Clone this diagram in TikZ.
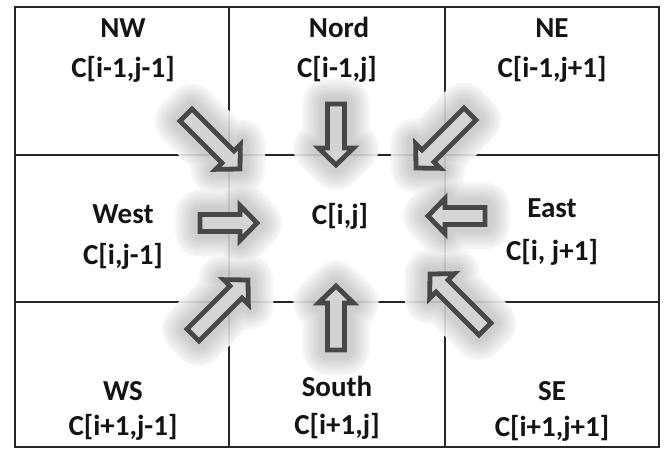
\documentclass[tikz,border=0pt]{standalone}
\usepackage{fontspec}
\setmainfont{Carlito}
\usetikzlibrary{calc}
\tikzset{
  lbl/.style={font=\fontsize{29}{32}\selectfont\bfseries, anchor=base, inner sep=0pt, text=black!92},
  gridline/.style={line width=2.4pt, black!85},
  blockarr/.style={draw=black!72, fill=black!17, line width=4.8pt, line join=miter, miter limit=10},
}
\newcommand{\arrSW}{8.5pt}
\newcommand{\arrHW}{17.5pt}
\newcommand{\arrHL}{17pt}
\newcommand{\defarrow}[3]{%
  \coordinate (#1-t) at #2;
  \coordinate (#1-p) at #3;
  \coordinate (#1-b) at ($(#1-p)!\arrHL!(#1-t)$);}
\newcommand{\arrpath}[1]{($(#1-t)!\arrSW!90:(#1-p)$) -- ($(#1-b)!\arrSW!90:(#1-p)$) -- ($(#1-b)!\arrHW!90:(#1-p)$) -- (#1-p) -- ($(#1-b)!\arrHW!-90:(#1-p)$) -- ($(#1-b)!\arrSW!-90:(#1-p)$) -- ($(#1-t)!\arrSW!-90:(#1-p)$) -- cycle}
\begin{document}
\begin{tikzpicture}[x=1pt, y=-1pt]
\useasboundingbox (0,0) rectangle (664,449);
\fill[white] (0,0) rectangle (664,449);
% grid
\draw[gridline] (15,7) rectangle (659,447);
\draw[gridline] (229,7) -- (229,447);
\draw[gridline] (445,7) -- (445,447);
\draw[gridline] (15,155) -- (659,155);
\draw[gridline] (15,302) -- (659,302);
% arrows geometry
\defarrow{nw}{(186,115)}{(240,169)}
\defarrow{n}{(336,104)}{(336,165)}
\defarrow{ne}{(470,114)}{(416,168)}
\defarrow{w}{(200,223)}{(257,223)}
\defarrow{e}{(485,216)}{(428,216)}
\defarrow{ws}{(193,335)}{(248,280)}
\defarrow{s}{(336,350)}{(336,286)}
\defarrow{se}{(485,329)}{(430,274)}
% glow
\begin{scope}[transparency group, opacity=0.9]
\foreach \lw/\c in {50/4, 46/6, 42/8, 38/10, 34/12, 30/14, 26/16, 22/18, 18/20, 14/21}{
  \foreach \a in {nw,n,ne,w,e,ws,s,se}{
    \draw[line width=\lw pt, draw=black!\c, fill=black!\c, line join=round] \arrpath{\a};
  }
}
\end{scope}
% arrows
\foreach \a in {nw,n,ne,w,e,ws,s,se}{
  \draw[blockarr] \arrpath{\a};
}
% labels
\node[lbl] (nw1) at (123,38) {NW};
\node[lbl] (nw2) at (123,78) {C[i-1,j-1]};
\node[lbl] (n1) at (339,38) {Nord};
\node[lbl] (n2) at (337,78) {C[i-1,j]};
\node[lbl] (ne1) at (552,38) {NE};
\node[lbl] (ne2) at (552,78) {C[i-1,j+1]};
\node[lbl] (w1) at (123,224) {West};
\node[lbl] (w2) at (123,264) {C[i,j-1]};
\node[lbl] (c) at (340,225) {C[i,j]};
\node[lbl] (e1) at (552,218) {East};
\node[lbl] (e2) at (552,260) {C[i, j+1]};
\node[lbl] (ws1) at (123,400) {WS};
\node[lbl] (ws2) at (123,435) {C[i+1,j-1]};
\node[lbl] (s1) at (337,396) {South};
\node[lbl] (s2) at (337,434) {C[i+1,j]};
\node[lbl] (se1) at (552,400) {SE};
\node[lbl] (se2) at (552,436) {C[i+1,j+1]};
\end{tikzpicture}
\end{document}
